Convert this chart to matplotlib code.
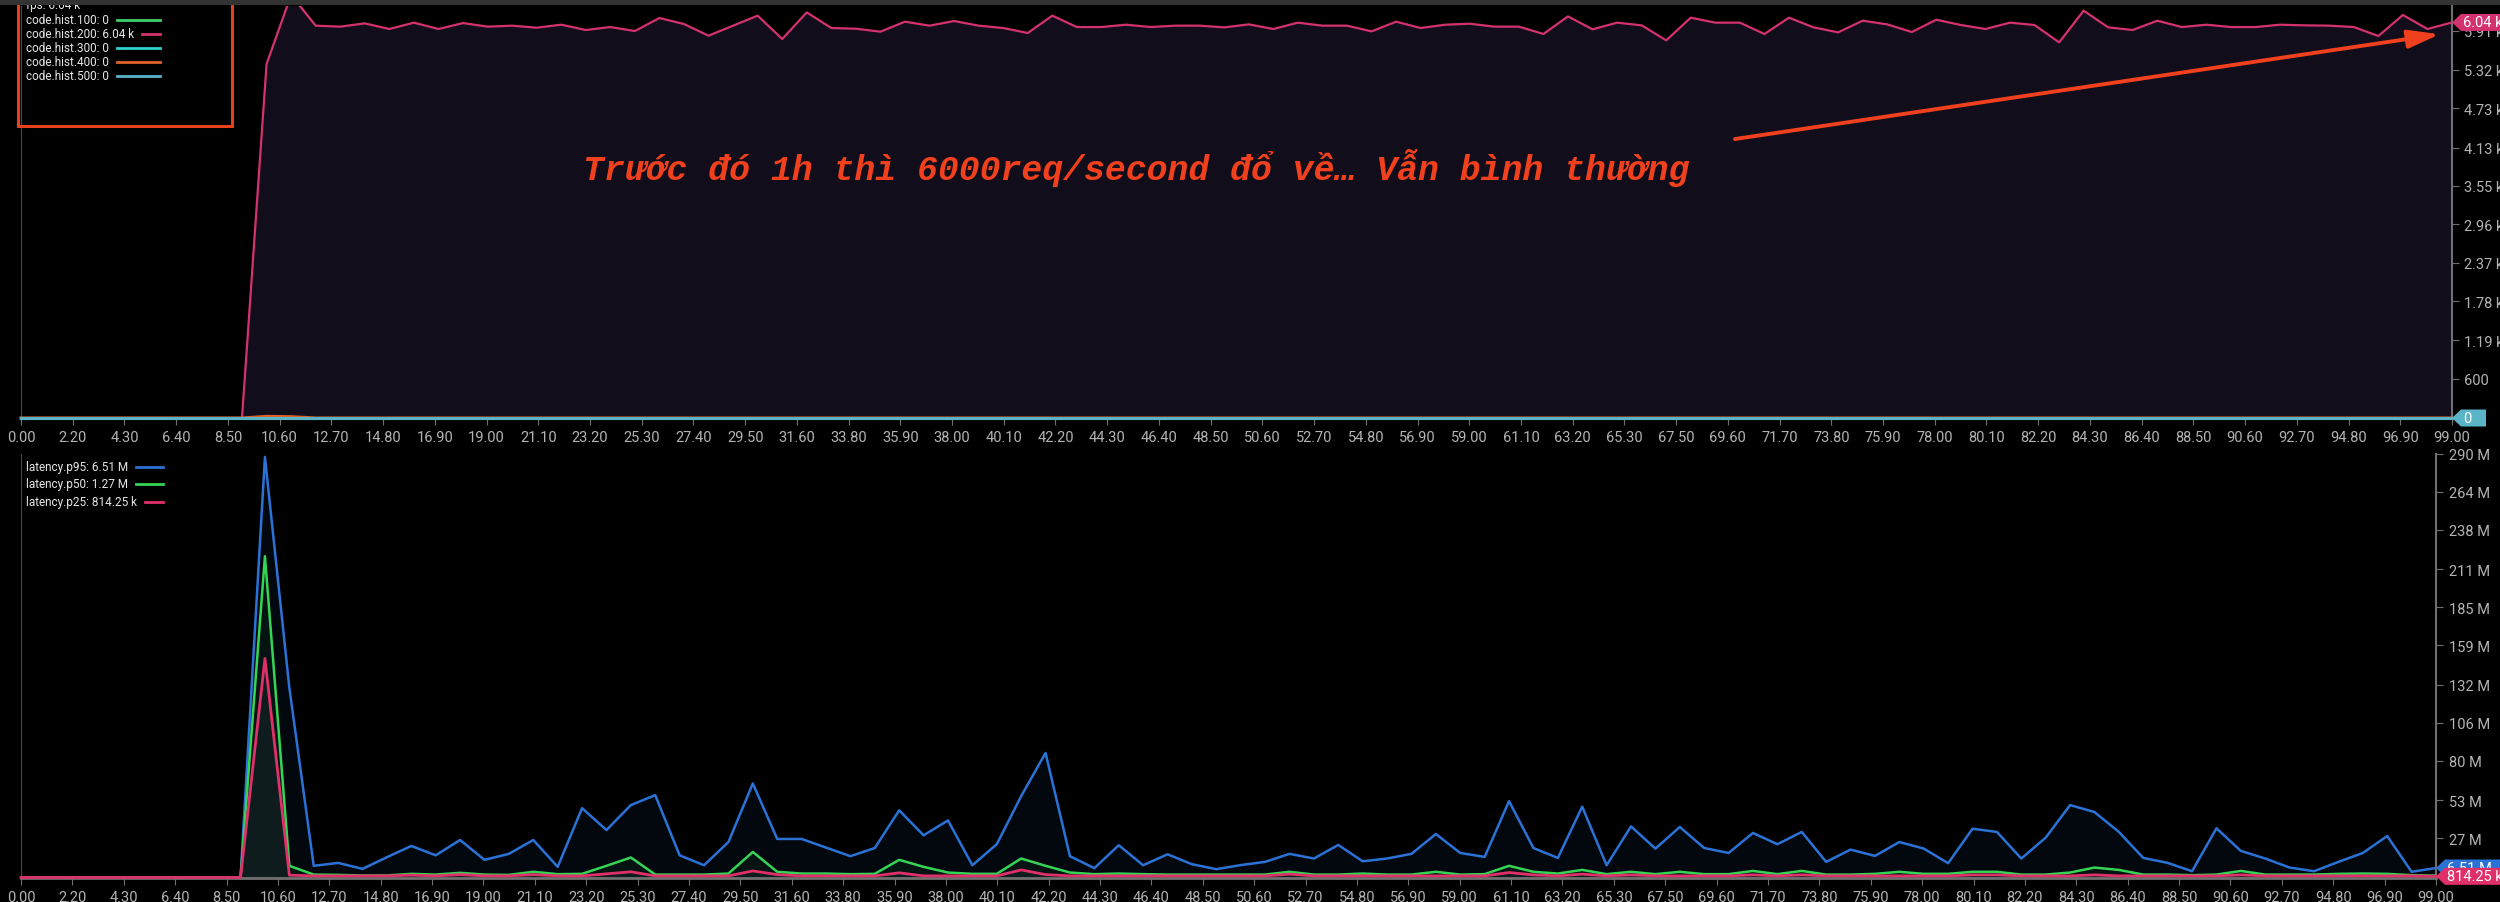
import numpy as np
import matplotlib.pyplot as plt
from matplotlib.patches import Rectangle, Polygon
from matplotlib.lines import Line2D

W, H = 2500, 903

# sample index on the x axis
t = list(range(100))
x_labels = ["0.00", "2.20", "4.30", "6.40", "8.50", "10.60", "12.70", "14.80", "16.90", "19.00",
            "21.10", "23.20", "25.30", "27.40", "29.50", "31.60", "33.80", "35.90", "38.00", "40.10",
            "42.20", "44.30", "46.40", "48.50", "50.60", "52.70", "54.80", "56.90", "59.00", "61.10",
            "63.20", "65.30", "67.50", "69.60", "71.70", "73.80", "75.90", "78.00", "80.10", "82.20",
            "84.30", "86.40", "88.50", "90.60", "92.70", "94.80", "96.90", "99.00"]

# top panel: requests per second by status code
hist_200 = [0, 0, 0, 0, 0, 0, 0, 0, 0, 0,
            5405, 6459, 5991, 5976, 6026, 5940, 6037, 5940, 6031, 5976,
            5991, 5960, 6006, 5925, 5970, 5909, 6108, 6016, 5838, 5991,
            6144, 5787, 6194, 5955, 5945, 5899, 6052, 5991, 6062, 5991,
            5955, 5879, 6144, 5970, 5970, 6006, 5970, 5991, 5991, 5965,
            6011, 5940, 6037, 5991, 5991, 5904, 6052, 5955, 6006, 6021,
            5976, 5976, 5864, 6133, 5935, 6037, 5996, 5767, 6113, 6037,
            6037, 5864, 6113, 5965, 5889, 6067, 6011, 5894, 6082, 6001,
            5940, 6037, 6001, 5736, 6220, 5965, 5925, 6067, 5970, 6006,
            5970, 5970, 6006, 5996, 5991, 5970, 5833, 6154, 5940, 6040]
hist_100 = [0] * 100
hist_300 = [0] * 100
hist_400 = [0, 0, 0, 0, 0, 0, 0, 0, 0, 0, 25, 20] + [0] * 88
hist_500 = [0] * 100
top_yticks = [600, 1190, 1780, 2370, 2960, 3550, 4130, 4730, 5320, 5910]
top_ylabels = ["600", "1.19 k", "1.78 k", "2.37 k", "2.96 k", "3.55 k", "4.13 k", "4.73 k", "5.32 k", "5.91 k"]

# bottom panel: latency percentiles (millions)
p95 = [0, 0, 0, 0, 0, 0, 0, 0, 0, 0,
       288, 130, 8.0, 10.0, 5.9, 13.9, 21.6, 15.2, 25.7, 12.1,
       16.2, 25.7, 7.3, 47.5, 32.5, 49.6, 56.4, 15.2, 8.4, 24.3,
       64.4, 26.4, 26.4, 20.5, 14.6, 20.2, 46.0, 28.9, 39.1, 8.4,
       22.8, 55.7, 85.3, 14.6, 6.4, 22.1, 8.4, 15.9, 9.1, 5.7,
       8.5, 10.7, 16.2, 13.0, 22.3, 11.1, 13.0, 16.2, 29.8, 16.8,
       14.1, 52.3, 20.2, 13.4, 48.5, 8.4, 35.0, 19.8, 34.6, 20.2,
       16.8, 30.5, 22.8, 31.2, 10.7, 19.1, 14.8, 24.3, 19.8, 9.8,
       33.4, 31.2, 13.0, 27.3, 49.6, 44.8, 31.2, 13.4, 10.0, 4.3,
       33.7, 18.2, 13.0, 6.8, 4.3, 10.7, 16.8, 28.4, 3.9, 6.51]
p50 = [0, 0, 0, 0, 0, 0, 0, 0, 0, 0,
       220, 8.0, 2.0, 1.8, 1.4, 1.4, 2.5, 2.0, 3.2, 2.0,
       1.8, 3.9, 2.3, 2.5, 8.0, 13.7, 2.0, 2.0, 2.0, 2.7,
       17.5, 3.9, 2.7, 2.7, 2.3, 2.5, 12.1, 7.3, 3.4, 2.5,
       2.5, 13.0, 8.0, 3.4, 2.3, 2.7, 2.3, 2.0, 2.0, 2.0,
       2.0, 2.0, 3.9, 2.0, 2.0, 2.7, 2.0, 2.0, 3.9, 2.0,
       2.3, 8.0, 3.9, 2.7, 5.2, 2.3, 3.9, 2.3, 3.9, 2.3,
       2.3, 4.5, 2.3, 4.5, 2.0, 2.0, 2.5, 3.9, 2.5, 2.5,
       3.9, 3.9, 2.0, 2.0, 3.4, 6.8, 5.2, 2.0, 2.0, 1.6,
       2.0, 4.5, 2.0, 2.0, 2.0, 2.5, 2.7, 2.5, 1.6, 1.27]
p25 = [0, 0, 0, 0, 0, 0, 0, 0, 0, 0,
       150, 1.6, 1.1, 1.1, 1.1, 1.1, 1.6, 1.1, 2.0, 1.1,
       1.1, 2.0, 1.1, 1.1, 2.5, 3.9, 1.1, 1.1, 1.1, 1.1,
       4.5, 2.0, 1.1, 1.1, 1.1, 1.1, 3.2, 1.1, 1.1, 1.1,
       1.1, 5.2, 2.0, 1.1, 1.1, 1.1, 1.1, 1.1, 1.1, 1.1,
       1.1, 1.1, 2.3, 1.1, 1.1, 1.1, 1.1, 1.1, 1.1, 1.1,
       1.1, 3.4, 1.8, 1.1, 2.3, 1.1, 1.8, 1.1, 1.1, 1.1,
       1.1, 1.8, 1.1, 1.8, 1.1, 1.1, 1.1, 1.1, 1.1, 1.1,
       1.8, 1.8, 1.1, 1.1, 1.1, 1.8, 1.1, 1.1, 1.1, 1.1,
       1.1, 1.8, 1.1, 1.1, 1.1, 1.1, 1.1, 1.1, 1.1, 0.81425]
bot_yticks = [27, 53, 80, 106, 132, 159, 185, 211, 238, 264, 290]
bot_ylabels = [f"{v} M" for v in bot_yticks]

note = "Trước đó 1h thì 6000req/second đổ về… Vẫn bình thường"

C_200, C_100, C_300, C_400, C_500 = "#d4326f", "#3ecf6a", "#2fd0d0", "#e0622a", "#5ab4c8"
C_P95, C_P50, C_P25 = "#2b72d6", "#36d455", "#e0306a"
RED = "#f0401e"
GREY_TXT = "#b4b4b4"
GREY_LINE = "#707070"

plt.rcParams['font.family'] = ['Roboto', 'DejaVu Sans']


def fx(px):
    return px / W


def fy(py):
    return 1 - py / H


fig = plt.figure(figsize=(W / 100, H / 100), dpi=100, facecolor="black")
ax_top = fig.add_axes([fx(21), fy(419), fx(2452 - 21), (419 - 6.7) / H])
ax_bot = fig.add_axes([fx(21), fy(878.5), fx(2436 - 21), (878.5 - 455) / H])


def style_axis(ax, pad_y):
    ax.set_facecolor("black")
    ax.set_xlim(0, 99)
    ax.yaxis.tick_right()
    ax.spines["top"].set_visible(False)
    ax.spines["left"].set_color("#4a4a4a")
    ax.spines["right"].set_color(GREY_LINE)
    ax.spines["right"].set_linewidth(1.5)
    ax.spines["bottom"].set_color(GREY_LINE)
    ax.spines["bottom"].set_linewidth(2)
    ax.set_xticks(np.linspace(0, 99, len(x_labels)))
    ax.set_xticklabels(x_labels)
    ax.tick_params(axis="x", colors=GREY_LINE, labelcolor=GREY_TXT, labelsize=10.5, length=5, pad=4)
    ax.tick_params(axis="y", colors=GREY_LINE, labelcolor=GREY_TXT, labelsize=10.5, length=5, pad=pad_y)


# ---- top panel
style_axis(ax_top, 3.5)
ax_top.set_ylim(0, 6296)
ax_top.set_yticks(top_yticks)
ax_top.set_yticklabels(top_ylabels)
ax_top.fill_between(t, hist_200, 0, color="#110d1a", lw=0, zorder=1)
ax_top.plot(t, hist_200, color=C_200, lw=1.6, zorder=3)
for vals, col in [(hist_100, C_100), (hist_300, C_300), (hist_400, C_400), (hist_500, C_500)]:
    ax_top.plot(t, vals, color=col, lw=2.2, zorder=4, clip_on=False)

ax_top.text(22.9, 3833, note, color=RED, fontsize=25, fontweight="bold", fontstyle="italic",
            family=["Liberation Mono", "DejaVu Sans Mono"], va="center", ha="left", zorder=6)
ax_top.annotate("", xy=(98.5, 5860), xytext=(69.8, 4260),
                arrowprops=dict(arrowstyle="-|>,head_length=1.9,head_width=0.55", color=RED,
                                lw=2.8, mutation_scale=10, shrinkA=0, shrinkB=0), zorder=6)

# ---- bottom panel
style_axis(ax_bot, 4.5)
ax_bot.set_ylim(0, 290)
ax_bot.set_yticks(bot_yticks)
ax_bot.set_yticklabels(bot_ylabels)
ax_bot.fill_between(t, p95, 0, color=C_P95, alpha=0.07, lw=0, zorder=1)
ax_bot.fill_between(t, p50, 0, color=C_P50, alpha=0.06, lw=0, zorder=1)
ax_bot.fill_between(t, p25, 0, color="#8a8a9a", alpha=0.08, lw=0, zorder=1)
ax_bot.plot(t, p95, color=C_P95, lw=1.8, zorder=3)
ax_bot.plot(t, p50, color=C_P50, lw=1.8, zorder=3)
ax_bot.plot(t, p25, color=C_P25, lw=2.0, zorder=4, clip_on=False)

# ---- value tags at the right edge
renderer = fig.canvas.get_renderer()


def value_tag(ax, y, text, color, width, zorder):
    x0, y0 = ax.transData.transform((99, y))
    h = 8.5
    pts = [(x0, y0), (x0 + 9, y0 + h), (x0 + width, y0 + h), (x0 + width, y0 - h), (x0 + 9, y0 - h)]
    pts = fig.transFigure.inverted().transform(pts)
    fig.add_artist(Polygon(pts, closed=True, facecolor=color, edgecolor="none",
                           transform=fig.transFigure, zorder=zorder))
    fx0, fy0 = fig.transFigure.inverted().transform((x0 + 11, y0))
    fig.text(fx0, fy0, text, color="white", fontsize=10.5, va="center", ha="left", zorder=zorder + 0.1)


value_tag(ax_top, hist_200[-1], f"{hist_200[-1] / 1000:.2f} k", C_200, 70, 20)
value_tag(ax_top, hist_500[-1], f"{hist_500[-1]}", C_500, 34, 20)
value_tag(ax_bot, p95[-1], f"{p95[-1]:.2f} M", C_P95, 70, 20)
value_tag(ax_bot, p25[-1], f"{p25[-1] * 1000:.2f} k", C_P25, 90, 21)


# ---- legends
def legend_rows(entries, x_text, y_rows, x_end, size):
    for (label, col), yy in zip(entries, y_rows):
        txt = fig.text(fx(x_text), fy(yy), label, color="#e6e6e6", fontsize=size, va="center", ha="left", zorder=8)
        bb = txt.get_window_extent(renderer)
        fig.add_artist(Line2D([fx(bb.x1 + 8), fx(x_end)], [fy(yy), fy(yy)], color=col, lw=2, zorder=8))


top_entries = [(f"code.hist.100: {hist_100[-1]}", C_100),
               (f"code.hist.200: {hist_200[-1] / 1000:.2f} k", C_200),
               (f"code.hist.300: {hist_300[-1]}", C_300),
               (f"code.hist.400: {hist_400[-1]}", C_400),
               (f"code.hist.500: {hist_500[-1]}", C_500)]
legend_rows(top_entries, 26, [21, 35, 49, 63, 77], 160, 8.5)
fig.text(fx(26), fy(5), f"fps: {hist_200[-1] / 1000:.2f} k", color="#e6e6e6", fontsize=8.5, va="center", zorder=8)

bot_entries = [(f"latency.p95: {p95[-1]:.2f} M", C_P95),
               (f"latency.p50: {p50[-1]:.2f} M", C_P50),
               (f"latency.p25: {p25[-1] * 1000:.2f} k", C_P25)]
legend_rows(bot_entries, 26, [468, 485, 503], 163, 8.5)

# red highlight box round the top legend
fig.add_artist(Rectangle((fx(18), fy(127)), fx(232 - 18), (127 - 3) / H, fill=False,
                         edgecolor="#e8401c", lw=2.2, transform=fig.transFigure, zorder=9))
# grey header strip
fig.add_artist(Rectangle((0, fy(6)), 1, 6 / H, facecolor="#333333", edgecolor="none",
                         transform=fig.transFigure, zorder=10))

fig.savefig("out.png", dpi=100, facecolor="black")
